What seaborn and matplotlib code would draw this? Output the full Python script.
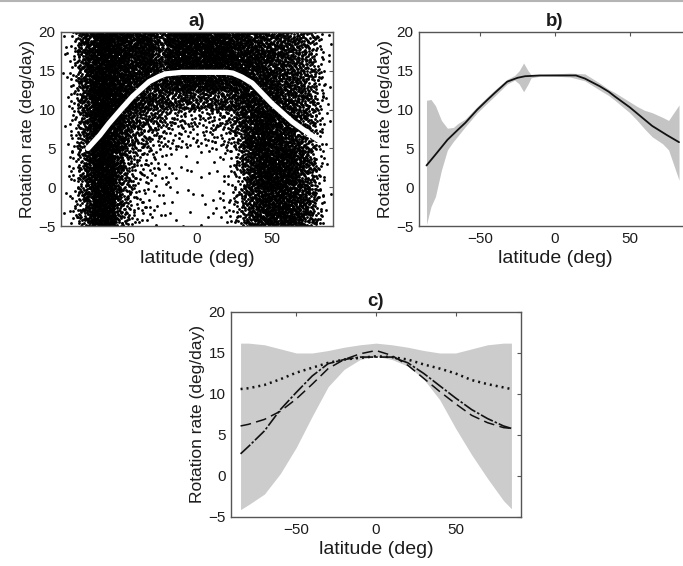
import numpy as np
import pandas as pd
import matplotlib
matplotlib.use("Agg")
import matplotlib.pyplot as plt
import seaborn as sns
from matplotlib.lines import Line2D

# ---------------- data ----------------
# Panel a: number of points per cell read from the scatter density.
# columns: 5-degree latitude bins from -90 to 90; rows: 2.5 deg/day bands (top -> bottom)
lat_edges = list(range(-90, 91, 5))
rate_band_lows = [17.5, 15, 12.5, 10, 7.5, 5, 2.5, 0, -2.5, -5]
band_height = 2.5
cnt_17_20 = [2, 8, 30, 50, 70, 75, 70, 60, 60, 50, 60, 55, 45, 30, 60, 70, 70, 65,
             60, 70, 70, 65, 60, 55, 50, 45, 45, 40, 35, 35, 35, 30, 25, 18, 8, 2]
cnt_15_17 = [2, 8, 30, 50, 70, 75, 70, 60, 60, 50, 60, 55, 45, 35, 60, 70, 70, 65,
             60, 70, 70, 65, 60, 55, 55, 50, 50, 45, 40, 40, 35, 30, 25, 18, 8, 2]
cnt_12_15 = [2, 8, 25, 45, 70, 75, 70, 60, 55, 50, 45, 45, 45, 45, 50, 55, 55, 55,
             55, 55, 55, 55, 50, 55, 55, 55, 50, 50, 45, 40, 40, 35, 30, 20, 10, 2]
cnt_10_12 = [2, 8, 25, 45, 70, 75, 70, 60, 55, 50, 45, 40, 35, 35, 30, 30, 30, 28,
             28, 30, 30, 32, 35, 45, 55, 55, 50, 50, 45, 40, 40, 35, 30, 20, 10, 2]
cnt_7_10 = [2, 6, 22, 40, 70, 75, 70, 58, 45, 35, 28, 25, 20, 16, 14, 12, 10, 10,
            10, 11, 12, 14, 18, 28, 40, 55, 60, 60, 55, 50, 45, 40, 30, 20, 8, 2]
cnt_5_7 = [1, 6, 22, 40, 70, 75, 70, 52, 35, 25, 18, 15, 12, 9, 7, 6, 5, 5,
           5, 6, 7, 8, 12, 22, 40, 55, 60, 60, 55, 50, 45, 40, 30, 20, 7, 1]
cnt_2_5 = [1, 5, 20, 45, 70, 75, 70, 45, 25, 15, 10, 8, 6, 4, 2, 2, 1, 1,
           1, 1, 2, 3, 6, 14, 30, 45, 60, 65, 60, 60, 55, 45, 35, 22, 7, 1]
cnt_0_2 = [1, 5, 20, 45, 70, 75, 70, 40, 22, 12, 7, 6, 4, 3, 2, 1, 1, 1,
           1, 1, 1, 2, 4, 10, 28, 45, 60, 65, 60, 60, 55, 45, 35, 22, 7, 1]
cnt_m2_0 = [1, 6, 20, 40, 70, 75, 70, 32, 18, 10, 6, 4, 3, 2, 2, 1, 1, 1,
            1, 1, 2, 3, 5, 10, 25, 40, 50, 55, 55, 60, 55, 50, 40, 25, 10, 1]
cnt_m5_m2 = [1, 6, 20, 40, 70, 75, 70, 28, 16, 8, 5, 4, 3, 2, 1, 1, 1, 1,
             1, 1, 2, 3, 5, 10, 25, 40, 50, 55, 55, 60, 55, 50, 40, 25, 10, 1]

# Panel a: white fitted profile
a_lat = [-73, -65, -59, -50, -43, -32, -25, -21, -10, 0, 10, 20, 24, 30, 37, 44, 50, 57, 64, 72, 81]
a_rate = [5.0, 6.7, 8.2, 10.2, 11.7, 13.6, 14.3, 14.6, 14.8, 14.8, 14.8, 14.8, 14.7, 14.2, 13.4,
          12.0, 10.8, 9.6, 8.4, 7.3, 6.1]

# Panel b: mean profile and its uncertainty band
b_lat = [-86, -80, -72, -65, -60, -52, -45, -40, -32, -25, -20, -10, 0, 10, 14, 20, 25, 30, 36,
         40, 45, 50, 55, 60, 65, 70, 75, 83]
b_rate = [2.8, 4.2, 6.1, 7.4, 8.3, 10.0, 11.3, 12.2, 13.6, 14.1, 14.3, 14.4, 14.4, 14.4, 14.4,
          14.0, 13.5, 13.0, 12.3, 11.7, 11.0, 10.3, 9.5, 8.7, 7.9, 7.3, 6.7, 5.8]
b_band_lat = [-86, -83, -80, -76, -72, -68, -65, -60, -52, -45, -40, -32, -27, -24, -21, -18, -16,
              -10, 0, 10, 20, 25, 30, 36, 40, 45, 50, 55, 60, 65, 72, 76, 83]
b_upper = [11.2, 11.3, 10.5, 8.6, 7.6, 7.7, 8.2, 8.8, 10.4, 11.7, 12.6, 13.9, 14.4, 15.0, 16.0,
           15.0, 14.5, 14.5, 14.6, 14.7, 14.6, 14.0, 13.4, 12.6, 12.2, 11.6, 11.0, 10.4, 9.9,
           9.6, 9.0, 8.6, 10.6]
b_lower = [-4.8, -2.5, -1.2, 2.2, 4.8, 5.9, 6.6, 7.8, 9.6, 10.9, 11.8, 13.3, 13.8, 13.3, 12.3,
           13.3, 14.1, 14.3, 14.3, 14.2, 13.7, 13.1, 12.5, 11.8, 11.2, 10.4, 9.6, 8.6, 7.5,
           6.5, 5.6, 4.8, 0.9]

# Panel c: model envelope and three profiles
c_lat = [-85, -80, -70, -60, -50, -40, -30, -20, -10, 0, 10, 20, 30, 40, 50, 60, 70, 80, 85]
c_upper = [16.2, 16.2, 16.0, 15.5, 15.0, 15.0, 15.3, 15.7, 16.0, 16.2, 16.0, 15.7, 15.3, 15.0,
           15.0, 15.5, 16.0, 16.2, 16.2]
c_lower = [-4.1, -3.5, -2.2, 0.3, 3.5, 7.3, 10.9, 13.0, 14.2, 14.6, 14.2, 13.4, 11.8, 9.3, 5.8,
           2.6, -0.3, -3.0, -4.0]
c_solid = [2.7, 3.6, 5.5, 8.1, 10.2, 12.2, 13.7, 14.2, 14.5, 14.5, 14.5, 13.8, 12.5, 11.0, 9.5,
           8.1, 7.0, 6.1, 5.8]
c_dashed = [6.1, 6.3, 6.9, 7.9, 9.4, 11.2, 13.1, 14.2, 14.9, 15.3, 14.7, 13.5, 11.9, 10.3, 8.8,
            7.4, 6.5, 5.9, 5.8]
c_dotted = [10.6, 10.7, 11.1, 11.8, 12.6, 13.2, 13.8, 14.2, 14.4, 14.6, 14.5, 14.2, 13.6, 13.1,
            12.5, 11.7, 11.2, 10.8, 10.6]

panel_titles = ["a)", "b)", "c)"]
x_label = "latitude (deg)"
y_label = "Rotation rate (deg/day)"
x_ticks = [-50, 0, 50]
y_ticks = [-5, 0, 5, 10, 15, 20]

# ---------------- style ----------------
sns.set_style("white")
plt.rcParams["font.family"] = ["Liberation Sans", "DejaVu Sans"]
TXT = "#1c1c1c"
SPINE = "#555555"

fig = plt.figure(figsize=(6.83, 5.66), dpi=100)
ax_a = fig.add_axes([0.0893, 0.6007, 0.3982, 0.3428])
ax_b = fig.add_axes([0.6135, 0.6007, 0.3982, 0.3428])
ax_c = fig.add_axes([0.3382, 0.0866, 0.4246, 0.3622])


def halton(idx, base):
    out = np.zeros(len(idx))
    f = np.ones(len(idx))
    i = idx.astype(float).copy()
    while np.any(i > 0):
        f = f / base
        out = out + f * (i % base)
        i = np.floor(i / base)
    return out


# Place the read counts in their cells: from a dense deterministic 3-D Halton set,
# keep in each cell the n candidates with the lowest third coordinate.
count_rows = [cnt_17_20, cnt_15_17, cnt_12_15, cnt_10_12, cnt_7_10,
              cnt_5_7, cnt_2_5, cnt_0_2, cnt_m2_0, cnt_m5_m2]
n_cols = len(lat_edges) - 1
n_rows = len(rate_band_lows)
idx = np.arange(1, 150001)
ux, uy, uz = halton(idx, 2), halton(idx, 3), halton(idx, 5)
cand = pd.DataFrame({
    "lat": lat_edges[0] + (lat_edges[-1] - lat_edges[0]) * ux,
    "rate": rate_band_lows[-1] + band_height * n_rows * uy,
    "key": uz,
})
cand["col"] = np.minimum((ux * n_cols).astype(int), n_cols - 1)
cand["row"] = np.minimum(((1 - uy) * n_rows).astype(int), n_rows - 1)
cand["rank"] = cand.groupby(["row", "col"])["key"].rank(method="first")
need = np.array(count_rows)
df_a = cand[cand["rank"] <= need[cand["row"].values, cand["col"].values]]

sns.scatterplot(data=df_a, x="lat", y="rate", s=4.2, color="black", linewidth=0,
                edgecolor=None, ax=ax_a, zorder=2)
sns.lineplot(x=a_lat, y=a_rate, color="white", lw=3.8, ax=ax_a, zorder=3)

# panel b
ax_b.fill_between(b_band_lat, b_lower, b_upper, color="#c4c4c4", lw=0, zorder=1)
sns.lineplot(x=b_lat, y=b_rate, color="#111111", lw=1.3, ax=ax_b, zorder=3)

# panel c
ax_c.fill_between(c_lat, c_lower, c_upper, color="#cccccc", lw=0, zorder=1)
sns.lineplot(x=c_lat, y=c_dotted, color="#111111", lw=1.8, ax=ax_c, zorder=3,
             linestyle=(0, (0.8, 1.6)))
sns.lineplot(x=c_lat, y=c_dashed, color="#111111", lw=1.1, ax=ax_c, zorder=3,
             linestyle=(0, (7, 3.5)))
sns.lineplot(x=c_lat, y=c_solid, color="#111111", lw=1.2, ax=ax_c, zorder=4,
             linestyle=(0, (8, 1.2, 1.5, 1.2)))

for ax, title in zip([ax_a, ax_b, ax_c], panel_titles):
    ax.set_xlim(-91, 91)
    ax.set_ylim(-5, 20)
    ax.set_xticks(x_ticks)
    ax.set_yticks(y_ticks)
    ax.tick_params(direction="in", length=3, width=0.8, top=True, right=True,
                   labelsize=11, colors=SPINE, labelcolor=TXT, pad=4)
    for sp in ax.spines.values():
        sp.set_color(SPINE)
        sp.set_linewidth(1.0)
        sp.set_visible(True)
    ax.set_xlabel(x_label, fontsize=14, color=TXT, labelpad=3)
    ax.set_ylabel(y_label, fontsize=12.5, color=TXT, labelpad=2)
    ax.set_title(title, fontsize=13.5, fontweight="bold", color=TXT, pad=4)

fig.add_artist(Line2D([0, 1], [0.999, 0.999], transform=fig.transFigure,
                      color="#b4b4b4", lw=1.5))

fig.savefig("out.png", dpi=100)
